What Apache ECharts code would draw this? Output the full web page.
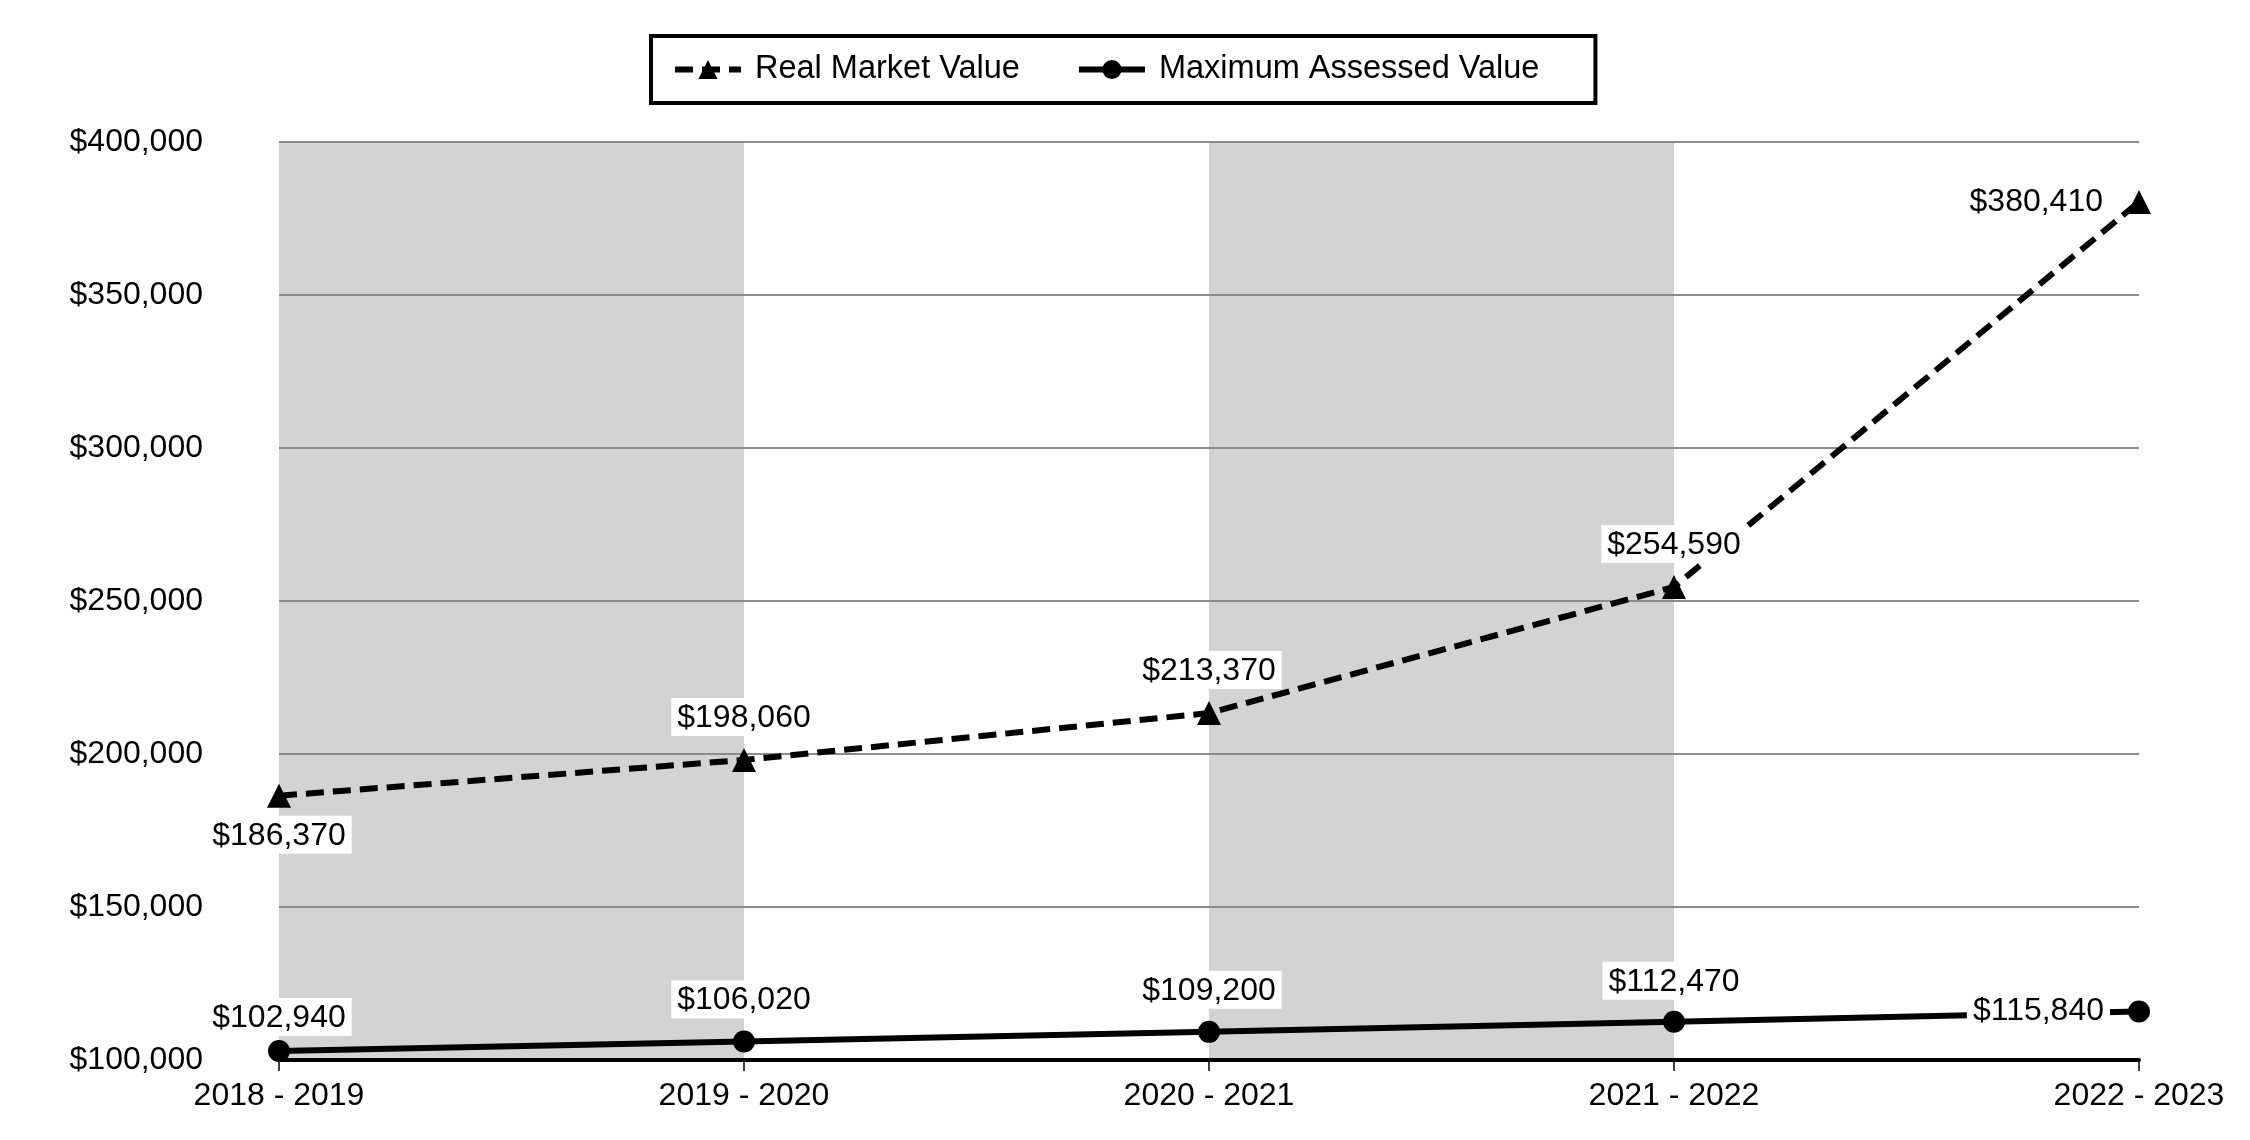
<!DOCTYPE html>
<html>
<head>
<meta charset="utf-8">
<script src="https://cdn.jsdelivr.net/npm/echarts@6/dist/echarts.min.js"></script>
<style>html,body{margin:0;padding:0;background:#fff}#c{width:2250px;height:1140px}</style>
</head>
<body>
<div id="c"></div>
<script>
const categories = ['2018 - 2019', '2019 - 2020', '2020 - 2021', '2021 - 2022', '2022 - 2023'];
const realMarketValue = [186370, 198060, 213370, 254590, 380410];
const maxAssessedValue = [102940, 106020, 109200, 112470, 115840];
const yTicks = { min: 100000, max: 400000, interval: 50000 };

const FONT = "'Liberation Sans', Arial, sans-serif";
const money = v => '$' + Number(v).toLocaleString('en-US');

const labelBase = {
  show: true,
  color: '#000',
  fontFamily: FONT,
  fontSize: 32,
  backgroundColor: '#fff',
  padding: [4, 6, 2, 6],
  formatter: p => money(p.value)
};

function buildData(values, positions, distances) {
  return values.map((v, i) => ({
    value: v,
    label: { position: positions[i], distance: distances[i] }
  }));
}

const chart = echarts.init(document.getElementById('c'));
chart.setOption({
  animation: false,
  backgroundColor: '#fff',
  textStyle: { fontFamily: FONT },
  legend: {
    top: 36,
    left: 651,
    backgroundColor: '#fff',
    borderColor: '#000',
    borderWidth: 4,
    padding: [17, 56, 17, 21],
    itemGap: 56,
    itemWidth: 66,
    itemHeight: 24,
    lineStyle: { width: 6 },
    textStyle: { fontSize: 32.5, color: '#000', fontFamily: FONT, padding: [0, 0, 0, 9] },
    data: ['Real Market Value', 'Maximum Assessed Value']
  },
  grid: { left: 279, right: 111, top: 142, bottom: 80, containLabel: false },
  xAxis: {
    type: 'category',
    data: categories,
    boundaryGap: false,
    z: 0,
    axisLine: { show: true, onZero: false, lineStyle: { color: '#000', width: 4 } },
    axisTick: { show: true, length: 11, lineStyle: { color: '#000', width: 1.5 } },
    axisLabel: { color: '#000', fontSize: 32, fontFamily: FONT, margin: 20 },
    splitLine: { show: false },
    splitArea: { show: true, areaStyle: { color: ['#d3d3d3', '#ffffff'] } }
  },
  yAxis: {
    type: 'value',
    min: yTicks.min,
    max: yTicks.max,
    interval: yTicks.interval,
    z: 1,
    axisLine: { show: false },
    axisTick: { show: false },
    axisLabel: { color: '#000', fontSize: 32, fontFamily: FONT, margin: 76, formatter: v => money(v) },
    splitLine: {
      show: true,
      lineStyle: { color: ['#000000', '#8c8c8c', '#8c8c8c', '#8c8c8c', '#8c8c8c', '#8c8c8c', '#8c8c8c'], width: 2 }
    }
  },
  series: [
    {
      name: 'Real Market Value',
      type: 'line',
      data: buildData(realMarketValue, ['bottom', 'top', 'top', 'top', 'left'], [8, 12, 12, 12, 18]),
      symbol: 'triangle',
      symbolSize: 24,
      itemStyle: { color: '#000' },
      lineStyle: { color: '#000', width: 6, type: [18, 9] },
      label: labelBase,
      z: 3
    },
    {
      name: 'Maximum Assessed Value',
      type: 'line',
      data: buildData(maxAssessedValue, ['top', 'top', 'top', 'top', 'left'], [4, 12, 12, 11, 18]),
      symbol: 'circle',
      symbolSize: 22,
      itemStyle: { color: '#000' },
      lineStyle: { color: '#000', width: 6 },
      label: labelBase,
      z: 3
    }
  ]
});
</script>
</body>
</html>
